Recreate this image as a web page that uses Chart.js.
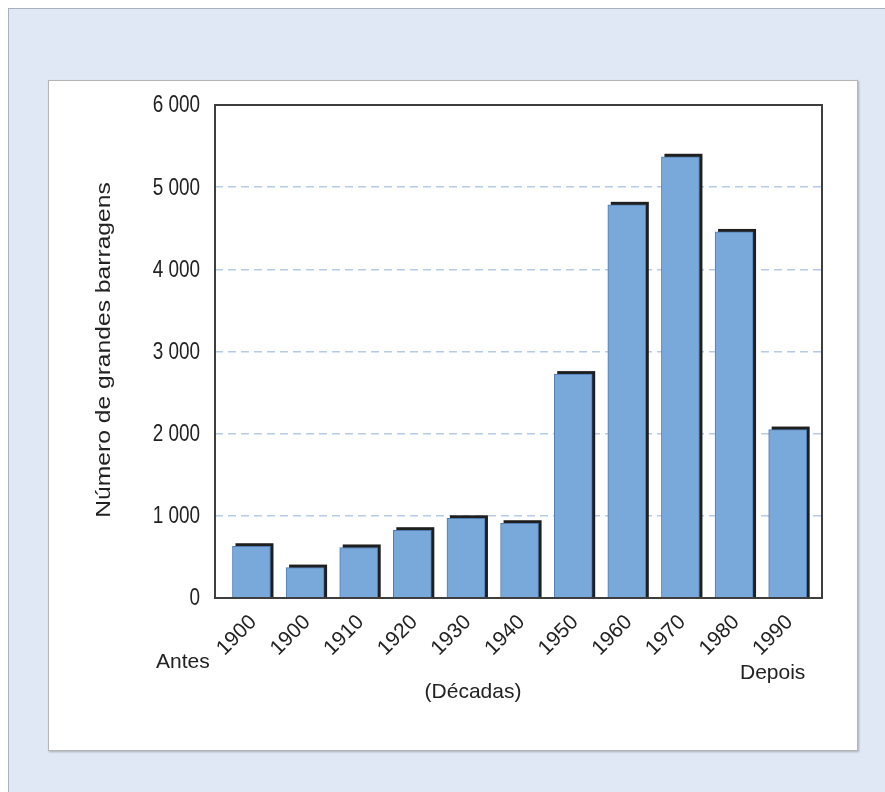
<!DOCTYPE html>
<html><head><meta charset="utf-8">
<script src="https://cdn.jsdelivr.net/npm/chart.js@4/dist/chart.umd.min.js"></script>
<style>
html,body{margin:0;padding:0;background:#fff;width:885px;height:792px;overflow:hidden;}
#outer{position:absolute;left:8px;top:8px;width:890px;height:800px;background:#dfe8f4;border-left:1px solid #a7b0bc;border-top:1px solid #a7b0bc;}
#panel{position:absolute;left:48px;top:80px;width:808px;height:669px;background:#fff;border:1px solid #b5b5b5;box-shadow:1px 1px 2px rgba(0,0,0,0.25);}
#wrap{position:absolute;left:0;top:0;width:885px;height:792px;}
</style></head><body>
<div id="outer"></div><div id="panel"></div>
<div id="wrap"><canvas id="c" width="885" height="792"></canvas></div>
<script>
const categories = ['1900','1900','1910','1920','1930','1940','1950','1960','1970','1980','1990'];
const damCounts = [630, 370, 615, 825, 970, 910, 2725, 4785, 5370, 4455, 2050];
const yTicks = [0, 1000, 2000, 3000, 4000, 5000, 6000];
const yTitle = 'Número de grandes barragens';
const xTitle = '(Décadas)';
const beforeLabel = 'Antes';
const afterLabel = 'Depois';

const FONT = '"Liberation Sans", Arial, sans-serif';
const TEXT = '#222';

function fmt(v){ return String(v).replace(/\B(?=(\d{3})+(?!\d))/g, ' '); }

const decor = {
  id: 'decor',
  beforeDatasetsDraw(chart){
    const ctx = chart.ctx;
    const meta = chart.getDatasetMeta(0);
    ctx.save();
    ctx.fillStyle = '#1f1f1f';
    meta.data.forEach(bar => {
      const p = bar.getProps(['x','y','base','width'], true);
      ctx.fillRect(p.x - p.width/2 + 3, p.y - 3, p.width, p.base - p.y + 3);
    });
    ctx.restore();
  },
  afterDraw(chart){
    const ctx = chart.ctx;
    const a = chart.chartArea;
    const ys = chart.scales.y, xs = chart.scales.x;
    ctx.save();
    ctx.strokeStyle = '#3e3e3e';
    ctx.lineWidth = 2;
    ctx.strokeRect(a.left, a.top, a.right - a.left, a.bottom - a.top);
    ctx.fillStyle = TEXT;
    // y tick labels (slightly condensed)
    ctx.font = '22px ' + FONT;
    yTicks.forEach(v => {
      ctx.save();
      ctx.translate(a.left - 15, ys.getPixelForValue(v) + 1);
      ctx.scale(0.86, 1.05);
      ctx.textAlign = 'right';
      ctx.textBaseline = 'middle';
      ctx.fillText(fmt(v), 0, 0);
      ctx.restore();
    });
    // x tick labels (rotated)
    ctx.font = '21px ' + FONT;
    categories.forEach((lab, i) => {
      const x = xs.getPixelForValue(i);
      ctx.save();
      ctx.translate(x + 2, 619);
      ctx.rotate(-Math.PI / 4);
      ctx.textAlign = 'right';
      ctx.textBaseline = 'middle';
      ctx.fillText(lab, 0, 0);
      ctx.restore();
    });
    // Antes / Depois
    ctx.font = '21px ' + FONT;
    ctx.textAlign = 'left';
    ctx.textBaseline = 'alphabetic';
    ctx.fillText(beforeLabel, 156, 668);
    ctx.fillText(afterLabel, 740, 679);
    // x title
    ctx.textAlign = 'center';
    ctx.textBaseline = 'middle';
    ctx.fillText(xTitle, 473, 692);
    // y title
    ctx.save();
    ctx.translate(104, 350);
    ctx.rotate(-Math.PI / 2);
    ctx.font = '22px ' + FONT;
    ctx.scale(1.12, 0.92);
    ctx.fillText(yTitle, 0, 0);
    ctx.restore();
    ctx.restore();
  }
};

new Chart(document.getElementById('c'), {
  type: 'bar',
  data: {
    datasets: [{
      data: damCounts.map((v, i) => ({ x: i, y: v })),
      backgroundColor: '#79a8da',
      borderColor: '#4f7cb0',
      borderWidth: 1,
      borderSkipped: 'bottom',
      barThickness: 38
    }]
  },
  options: {
    responsive: false,
    devicePixelRatio: 1,
    animation: false,
    layout: { padding: { left: 0, top: 105, right: 63, bottom: 0 } },
    plugins: { legend: { display: false }, tooltip: { enabled: false } },
    scales: {
      x: {
        type: 'linear',
        offset: false,
        min: -0.68, max: 10.64,
        ticks: { display: false },
        grid: { display: false, offset: false },
        border: { display: false },
        afterFit(s){ s.height = 194; }
      },
      y: {
        min: 0, max: 6000,
        ticks: { display: false, stepSize: 1000 },
        grid: {
          drawTicks: false,
          lineWidth: 1.5,
          color: c => (c.tick && (c.tick.value === 0 || c.tick.value === 6000)) ? 'rgba(0,0,0,0)' : '#b6cbe8'
        },
        border: { display: false, dash: [8, 5] },
        afterFit(s){ s.width = 215; }
      }
    }
  },
  plugins: [decor]
});
</script>
</body></html>
